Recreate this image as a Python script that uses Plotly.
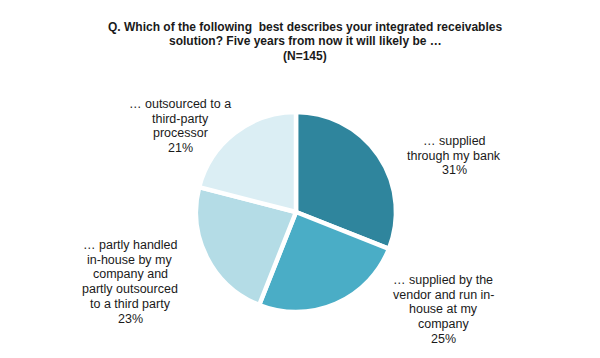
import plotly.graph_objects as go

# Data
categories = [
    "… supplied<br>through my bank",
    "… supplied by the<br>vendor and run in-<br>house at my<br>company",
    "… partly handled<br>in-house by my<br>company and<br>partly outsourced<br>to a third party",
    "… outsourced to a<br>third-party<br>processor",
]
values = [31, 25, 23, 21]
colors = ["#2F859D", "#4AADC6", "#B4DCE6", "#DBEEF4"]

title_lines = [
    "Q. Which of the following  best describes your integrated receivables",
    "solution? Five years from now it will likely be …",
    "(N=145)",
]

W, H = 600, 358
CX, CY, R = 288, 204, 100
# label centres in pixels (x, y of first line from top), line step
label_pos = [(446, 133), (435, 272), (122, 237), (172, 96)]
LINE_STEP = 14.7
TITLE_STEP = 14.3
FONT = "Liberation Sans, Arial, sans-serif"

fig = go.Figure()
fig.add_trace(go.Pie(
    labels=categories,
    values=values,
    sort=False,
    direction="clockwise",
    rotation=0,
    marker=dict(colors=colors, line=dict(color="white", width=4.5)),
    textinfo="none",
    hoverinfo="label+percent",
    domain=dict(x=[(CX - R) / W, (CX + R) / W],
                y=[(H - CY - R) / H, (H - CY + R) / H]),
    showlegend=False,
))

for cat, val, (px, py) in zip(categories, values, label_pos):
    lines = cat.split("<br>") + [f"{val}%"]
    for i, ln in enumerate(lines):
        fig.add_annotation(
            x=px / W, y=1 - (py + i * LINE_STEP) / H, xref="paper", yref="paper",
            text=ln, showarrow=False,
            xanchor="center", yanchor="middle", align="center",
            font=dict(family=FONT, size=12.5, color="#1a1a1a"),
        )

for i, ln in enumerate(title_lines):
    fig.add_annotation(
        x=297 / W, y=1 - (19 + i * TITLE_STEP) / H, xref="paper", yref="paper",
        text=f"<b>{ln}</b>", showarrow=False,
        xanchor="center", yanchor="middle", align="center",
        font=dict(family=FONT, size=12, color="#1a1a1a"),
    )

fig.update_layout(
    width=W, height=H,
    margin=dict(l=0, r=0, t=0, b=0),
    paper_bgcolor="white", plot_bgcolor="white",
)

fig.write_html("out.html")
